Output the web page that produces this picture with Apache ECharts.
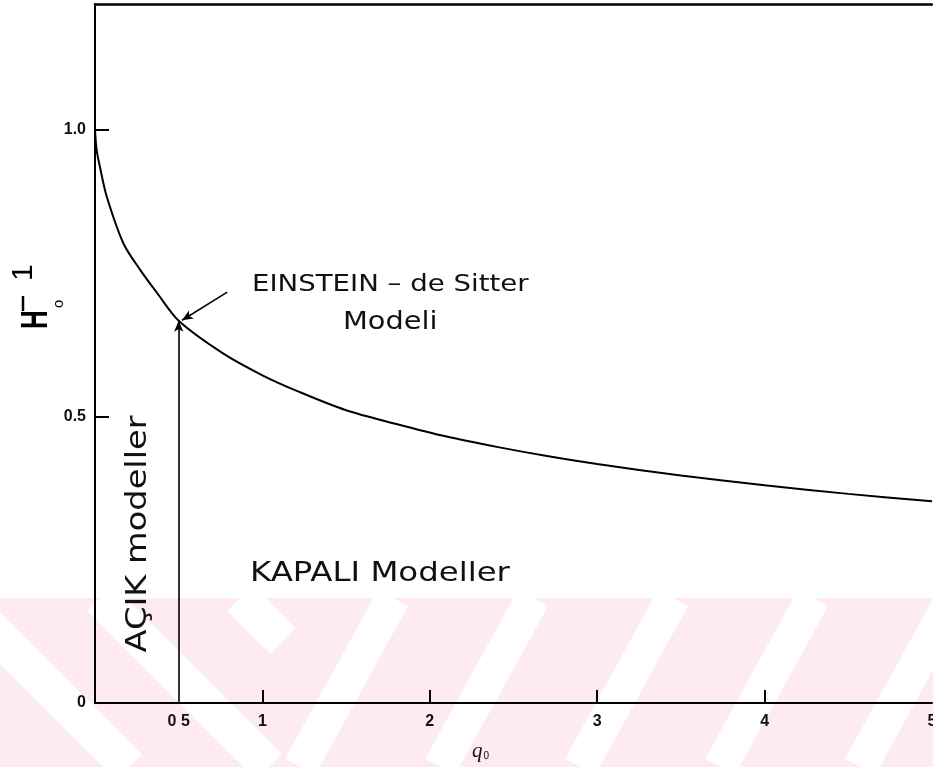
<!DOCTYPE html>
<html><head><meta charset="utf-8">
<script src="https://cdn.jsdelivr.net/npm/echarts@6/dist/echarts.min.js"></script>
<style>html,body{margin:0;padding:0;background:#fff}#c{width:933px;height:767px}</style>
</head><body><div id="c"></div>
<script>
// H0^-1 (H0 t0) versus q0 for matter-dominated models
const qValues = [0, 0.01, 0.03, 0.07, 0.17, 0.27, 0.37, 0.5, 0.76, 1.0, 1.22, 1.5, 1.8, 2.1, 2.4, 2.7, 3.0, 3.5, 4.0, 4.5, 5.0];
const hValues = [1.0, 0.965, 0.935, 0.884, 0.802, 0.756, 0.716, 0.667, 0.611, 0.572, 0.543, 0.511, 0.487, 0.465, 0.447, 0.431, 0.417, 0.397, 0.380, 0.365, 0.352];
const xLabelValues = [0.5, 1, 2, 3, 4, 5];
const xLabelTexts = ['0 5', '1', '2', '3', '4', '5'];
const xTickValues = [1, 2, 3, 4];
const yLabelValues = [0, 0.5, 1.0];
const yLabelTexts = ['0', '0.5', '1.0'];
const yTickValues = [0.5, 1.0];
const edsPoint = [0.5, 0.667];      // Einstein - de Sitter point
const arrowTail = [0.79, 0.717];
const arrowTip = [0.52, 0.668];

const chart = echarts.init(document.getElementById('c'), null, {renderer: 'canvas'});

const curve = qValues.map((q, i) => [q, hValues[i]]);

// watermark stripes (decoration)
const wm = [];
const bandTop = 598, bandBot = 767, junction = 283;
wm.push({type: 'rect', silent: true, z: -10, shape: {x: 0, y: bandTop, width: 933, height: bandBot - bandTop}, style: {fill: '#fdebef'}});
[-40, 100, 240].forEach(x0 => {
  let x1 = x0, y1 = bandTop, x2 = x0 + (bandBot - bandTop), y2 = bandBot;
  if (x2 > junction) { y2 = bandTop + (junction - x0); x2 = junction; }
  if (x1 < junction) wm.push({type: 'line', silent: true, z: -9, shape: {x1, y1, x2, y2}, style: {stroke: '#fff', lineWidth: 36}});
});
[393, 533, 673, 813, 953].forEach(x0 => {
  const s = 0.55;
  let x1 = x0, y1 = bandTop, x2 = x0 - s * (bandBot - bandTop), y2 = bandBot;
  if (x2 < junction) { y2 = bandTop + (x0 - junction) / s; x2 = junction; }
  wm.push({type: 'line', silent: true, z: -9, shape: {x1, y1, x2, y2}, style: {stroke: '#fff', lineWidth: 34}});
});

const hand = 'DejaVu Sans';
const texts = [
  {type: 'text', z: 10, x: 252, y: 274, scaleX: 1.2, style: {text: 'EINSTEIN – de Sitter', font: 'normal 23px "' + hand + '"', fill: '#111'}},
  {type: 'text', z: 10, x: 343, y: 311, scaleX: 1.2, style: {text: 'Modeli', font: 'normal 24px "' + hand + '"', fill: '#111'}},
  {type: 'text', z: 10, x: 250, y: 560, scaleX: 1.2, style: {text: 'KAPALI Modeller', font: 'normal 27px "' + hand + '"', fill: '#111'}},
  {type: 'text', z: 10, x: 139, y: 534, rotation: Math.PI / 2, scaleX: 1.2, style: {text: 'AÇIK modeller', font: 'normal 28px "' + hand + '"', fill: '#111', align: 'center', verticalAlign: 'middle'}},
  // x axis name q0
  {type: 'text', z: 10, x: 472, y: 741, style: {text: '{q|q}{s|0}', rich: {q: {font: 'italic 21px "Liberation Serif"', fill: '#111'}, s: {font: '10px "Liberation Sans"', fill: '#111', padding: [9, 0, 0, 1]}}}},
  // y axis name H0^-1 (rotated)
  {type: 'group', x: 47, y: 329, rotation: Math.PI / 2, children: [
    {type: 'text', x: 0, y: 8, scaleX: 0.7, style: {text: 'H', font: 'bold 37px "Liberation Sans"', fill: '#000', verticalAlign: 'bottom'}},
    {type: 'line', shape: {x1: 18, y1: -24, x2: 33, y2: -24}, style: {stroke: '#000', lineWidth: 2.5}},
    {type: 'text', x: 48, y: -8, style: {text: '1', font: 'normal 30px "Liberation Sans"', fill: '#000', verticalAlign: 'bottom'}},
    {type: 'text', x: 21, y: 19, style: {text: 'o', font: 'normal 15px "Liberation Sans"', fill: '#000', verticalAlign: 'bottom'}}
  ]}
];

const fmt = (vals, txt) => v => { const i = vals.findIndex(t => Math.abs(t - v) < 1e-6); return i >= 0 ? txt[i] : ''; };

chart.setOption({
  animation: false,
  backgroundColor: '#fff',
  grid: {left: 95, right: 1, top: 4, bottom: 64, show: false, outerBoundsMode: 'none', containLabel: false},
  xAxis: [{
    type: 'value', min: 0, max: 5,
    axisLine: {show: true, onZero: false, lineStyle: {color: '#000', width: 2}},
    axisTick: {show: true, inside: true, length: 13, customValues: xTickValues, lineStyle: {color: '#000', width: 2}},
    axisLabel: {show: true, customValues: xLabelValues, margin: 11, color: '#111', fontSize: 16, fontWeight: 'bold', fontFamily: 'Liberation Sans',
      formatter: fmt(xLabelValues, xLabelTexts)},
    splitLine: {show: false}
  }, {
    type: 'value', min: 0, max: 5, position: 'top',
    axisLine: {show: true, onZero: false, lineStyle: {color: '#000', width: 2.5}},
    axisTick: {show: false}, axisLabel: {show: false}, splitLine: {show: false}
  }],
  yAxis: {
    type: 'value', min: 0, max: 1.22,
    axisLine: {show: true, lineStyle: {color: '#000', width: 2}},
    axisTick: {show: true, inside: true, length: 14, customValues: yTickValues, lineStyle: {color: '#000', width: 2}},
    axisLabel: {show: true, customValues: yLabelValues, margin: 9, color: '#111', fontSize: 16, fontWeight: 'bold', fontFamily: 'Liberation Sans',
      formatter: fmt(yLabelValues, yLabelTexts)},
    splitLine: {show: false}
  },
  graphic: wm.concat(texts),
  series: [{
    type: 'line', data: curve, smooth: 0.3, showSymbol: false, symbol: 'none',
    lineStyle: {color: '#000', width: 2}, z: 5,
    markLine: {
      silent: true, animation: false,
      symbol: ['none', 'arrow'], symbolSize: [7, 11],
      label: {show: false},
      lineStyle: {color: '#000', width: 1.6, type: 'solid'},
      emphasis: {disabled: true},
      data: [
        [{coord: [edsPoint[0], 0]}, {coord: edsPoint}],
        [{coord: arrowTail}, {coord: arrowTip}]
      ]
    }
  }]
});
</script></body></html>
